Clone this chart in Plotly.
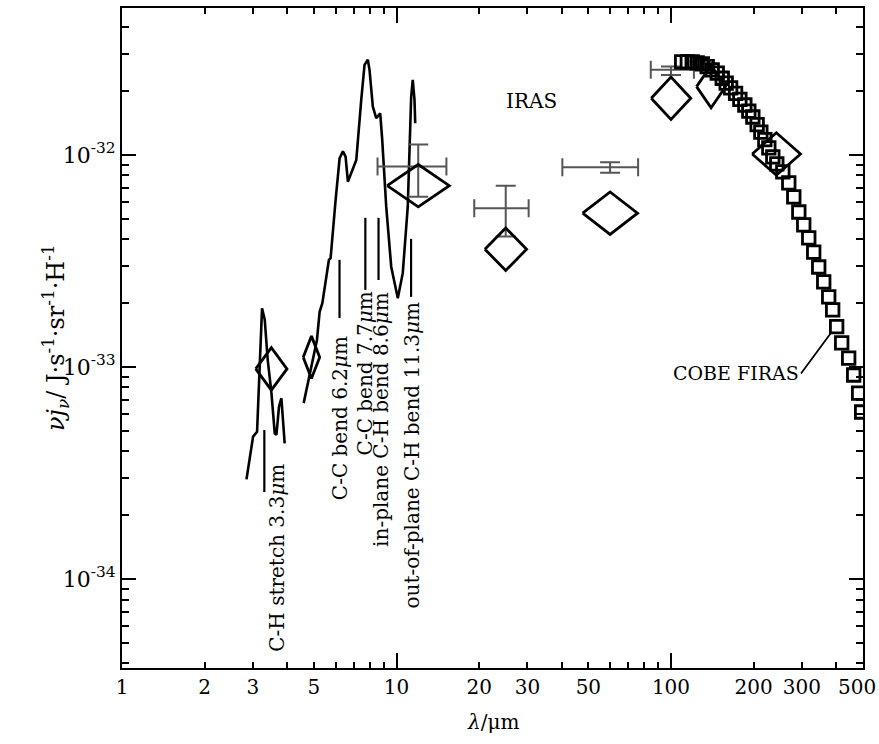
import plotly.graph_objects as go
import numpy as np

# ---------------- data ----------------
# PAH emission spectrum, segment 1 (3.3 um feature)
pah1_lam = [2.841, 3.003, 3.105, 3.237, 3.311, 3.395, 3.503, 3.601, 3.652, 3.733, 3.808, 3.914]
pah1_val = [2.95e-34, 4.69e-34, 4.95e-34, 1.89e-33, 1.67e-33, 1.08e-33, 7.52e-34,
            4.86e-34, 4.78e-34, 6.50e-34, 7.12e-34, 4.36e-34]
# PAH emission spectrum, segment 2 (5-12 um)
pah2_lam = [4.59, 4.938, 5.131, 5.248, 5.368, 5.673, 5.754, 6.001, 6.205, 6.379, 6.524,
            6.651, 6.844, 7.137, 7.44, 7.648, 7.862, 7.975, 8.199, 8.436, 8.723, 8.871,
            9.174, 9.566, 10.11, 10.54, 10.99, 11.31, 11.46, 11.63, 11.70]
pah2_val = [6.75e-34, 1.08e-33, 1.34e-33, 1.82e-33, 2.00e-33, 3.20e-33, 3.26e-33,
            6.14e-33, 9.64e-33, 1.04e-32, 9.82e-33, 7.48e-33, 8.20e-33, 9.47e-33,
            1.82e-32, 2.66e-32, 2.81e-32, 2.52e-32, 1.69e-32, 1.49e-32, 1.57e-32,
            1.18e-32, 5.70e-33, 2.97e-33, 2.11e-33, 2.77e-33, 5.70e-33, 1.88e-32,
            2.26e-32, 1.82e-32, 1.41e-32]

# DIRBE band points (diamonds); half band width in dex
dirbe_lam = [3.5, 4.9, 12, 25, 60, 100, 140, 242]
dirbe_val = [9.79e-34, 1.11e-33, 7.16e-33, 3.59e-33, 5.31e-33, 1.85e-32, 2.10e-32, 1.01e-32]
dirbe_halfwidth_dex = [0.057, 0.030, 0.113, 0.076, 0.100, 0.072, 0.053, 0.088]

# IRAS points with error bars
iras_lam = [12, 25, 60, 100]
iras_val = [8.81e-33, 5.61e-33, 8.75e-33, 2.52e-32]
iras_lam_lo = [8.53, 19.2, 40.2, 84.4]
iras_lam_hi = [15.2, 30.3, 75.9, 121.2]
iras_val_lo = [6.35e-33, 4.12e-33, 8.25e-33, 2.38e-32]
iras_val_hi = [1.12e-32, 7.16e-33, 9.24e-33, 2.61e-32]

# COBE FIRAS spectrum (squares)
firas_lam = [109.4, 114.7, 119.5, 124.6, 130.0, 135.5, 141.3, 147.4, 153.7, 158.9, 164.9,
             171.9, 178.2, 185.8, 192.1, 198.7, 206.0, 212.5, 219.7, 227.2, 234.9, 242.9,
             255.5, 268.6, 280.1, 292.2, 304.5, 317.6, 331.1, 345.3, 360.1, 375.5, 388.2,
             401.4, 418.7, 444.0, 463.0, 482.7, 495.0]
firas_val = [2.75e-32, 2.75e-32, 2.75e-32, 2.72e-32, 2.69e-32, 2.61e-32, 2.52e-32, 2.43e-32,
             2.30e-32, 2.18e-32, 2.07e-32, 1.95e-32, 1.83e-32, 1.72e-32, 1.61e-32, 1.51e-32,
             1.39e-32, 1.28e-32, 1.18e-32, 1.08e-32, 9.79e-33, 9.07e-33, 8.32e-33, 7.38e-33,
             6.34e-33, 5.38e-33, 4.68e-33, 4.06e-33, 3.48e-33, 2.96e-33, 2.52e-33, 2.14e-33,
             1.86e-33, 1.55e-33, 1.30e-33, 1.10e-33, 9.16e-34, 7.53e-34, 6.13e-34]

# PAH feature markers
feat_lam = [3.3, 6.2, 7.7, 8.6, 11.3]
feat_top = [5.04e-34, 3.20e-33, 5.05e-33, 5.05e-33, 4.02e-33]
feat_bot = [2.57e-34, 1.70e-33, 2.31e-33, 2.57e-33, 2.14e-33]
feat_text = ["C-H stretch 3.3<i>μ</i>m", "C-C bend 6.2<i>μ</i>m", "C-C bend 7.7<i>μ</i>m",
             "in-plane C-H bend 8.6<i>μ</i>m", "out-of-plane C-H bend 11.3<i>μ</i>m"]
feat_text_lam = [3.66, 6.20, 7.65, 8.82, 11.34]
feat_text_top = [3.56e-34, 1.42e-33, 2.31e-33, 2.31e-33, 2.07e-33]

# axes (the last label, 500, sits at the frame edge and is right-aligned to stay inside)
x_tick_vals = [1, 2, 3, 5, 10, 20, 30, 50, 100, 200, 300, 500]
x_tick_text = ["1", "2", "3", "5", "10", "20", "30", "50", "100", "200", "300", ""]
x_edge_label = "500"
x_minor_vals = [4, 6, 7, 8, 9, 40, 60, 70, 80, 90, 400]
x_long_vals = [10, 100]
y_decades = [-34, -33, -32]

# ---------------- styles ----------------
FONT = "DejaVu Serif"
BLACK = "black"
DIAMOND_HALF_HEIGHT_DEX = 0.1
X_RANGE = [0, 2.6995]

fig = go.Figure()

fig.add_trace(go.Scatter(x=pah1_lam, y=pah1_val, mode="lines",
                         line=dict(color=BLACK, width=2.6), showlegend=False))
fig.add_trace(go.Scatter(x=pah2_lam, y=pah2_val, mode="lines",
                         line=dict(color=BLACK, width=2.6), showlegend=False))

# feature marker lines
fx, fy = [], []
for lam, t, b in zip(feat_lam, feat_top, feat_bot):
    fx += [lam, lam, None]
    fy += [t, b, None]
fig.add_trace(go.Scatter(x=fx, y=fy, mode="lines", line=dict(color=BLACK, width=2.2),
                         showlegend=False))

# IRAS error bars
fig.add_trace(go.Scatter(
    x=iras_lam, y=iras_val, mode="markers",
    marker=dict(size=2, color="rgba(0,0,0,0)"),
    error_x=dict(type="data", symmetric=False,
                 array=[h - c for h, c in zip(iras_lam_hi, iras_lam)],
                 arrayminus=[c - l for l, c in zip(iras_lam_lo, iras_lam)],
                 color="#555555", thickness=2, width=9),
    error_y=dict(type="data", symmetric=False,
                 array=[h - c for h, c in zip(iras_val_hi, iras_val)],
                 arrayminus=[c - l for l, c in zip(iras_val_lo, iras_val)],
                 color="#555555", thickness=2, width=10),
    showlegend=False))

# DIRBE diamonds (width = band width)
dx, dy = [], []
g = 10 ** DIAMOND_HALF_HEIGHT_DEX
for lam, val, w in zip(dirbe_lam, dirbe_val, dirbe_halfwidth_dex):
    f = 10 ** w
    dx += [lam / f, lam, lam * f, lam, lam / f, None]
    dy += [val, val * g, val, val / g, val, None]
fig.add_trace(go.Scatter(x=dx, y=dy, mode="lines", line=dict(color=BLACK, width=2.8),
                         showlegend=False))

# FIRAS squares
fig.add_trace(go.Scatter(x=firas_lam, y=firas_val, mode="markers",
                         marker=dict(symbol="square-open", size=12.5,
                                     line=dict(color=BLACK, width=2.8), color=BLACK),
                         showlegend=False, cliponaxis=True))

annotations = []
for txt, lam, top in zip(feat_text, feat_text_lam, feat_text_top):
    annotations.append(dict(x=np.log10(lam), y=np.log10(top), xref="x", yref="y",
                            text=txt, textangle=-90, showarrow=False,
                            xanchor="center", yanchor="top",
                            font=dict(family=FONT, size=20, color=BLACK)))
annotations.append(dict(x=np.log10(31), y=-31.745, xref="x", yref="y", text="IRAS",
                        showarrow=False, font=dict(family=FONT, size=20, color=BLACK)))
annotations.append(dict(x=np.log10(386), y=np.log10(1.47e-33), xref="x", yref="y",
                        text="COBE FIRAS", showarrow=True, arrowhead=0, arrowwidth=1.8,
                        arrowcolor=BLACK, ax=-31, ay=42, xanchor="right", yanchor="middle",
                        standoff=0, font=dict(family=FONT, size=19, color=BLACK)))
annotations.append(dict(x=-0.0904, y=0.5, xref="paper", yref="paper",
                        text="<i>νj</i><sub><i>ν</i></sub>/ J·s<sup>-1</sup>·sr<sup>-1</sup>·H<sup>-1</sup>",
                        textangle=-90, showarrow=False, xanchor="center", yanchor="middle",
                        font=dict(family=FONT, size=24, color=BLACK)))
annotations.append(dict(x=0.5, y=-0.082, xref="paper", yref="paper",
                        text="<i>λ</i>/μm", showarrow=False, xanchor="center",
                        yanchor="middle", font=dict(family=FONT, size=20, color=BLACK)))
annotations.append(dict(x=1.0205, y=-0.0285, xref="paper", yref="paper",
                        text=x_edge_label, showarrow=False, xanchor="right",
                        yanchor="middle", font=dict(family=FONT, size=20, color=BLACK)))

y_minor = [k * 10.0 ** e for e in range(-35, -31) for k in range(2, 10)]

fig.update_layout(
    width=879, height=744,
    margin=dict(l=122, r=16, t=8, b=76, autoexpand=False),
    paper_bgcolor="white", plot_bgcolor="white",
    font=dict(family=FONT, size=20, color=BLACK),
    showlegend=False,
    annotations=annotations,
    xaxis=dict(type="log", range=X_RANGE, tickmode="array",
               tickvals=x_tick_vals, ticktext=x_tick_text,
               ticks="inside", ticklen=6, tickwidth=1.6, tickcolor=BLACK,
               tickfont=dict(family=FONT, size=20, color=BLACK),
               automargin=False,
               showline=True, linewidth=2, linecolor=BLACK, mirror="ticks",
               showgrid=False, zeroline=False,
               minor=dict(tickmode="array", tickvals=x_minor_vals, ticks="inside",
                          ticklen=6, tickwidth=1.6, tickcolor=BLACK, showgrid=False)),
    xaxis2=dict(type="log", range=X_RANGE, overlaying="x", anchor="y",
                tickmode="array", tickvals=x_long_vals, ticks="inside", ticklen=15,
                tickwidth=1.8, tickcolor=BLACK, showticklabels=False, showline=False,
                mirror="ticks", showgrid=False, zeroline=False, automargin=False),
    yaxis=dict(type="log", range=[-34.420, -31.307], tickmode="array",
               tickvals=[10.0 ** e for e in y_decades],
               ticktext=["10<sup>-%d</sup>" % (-e) for e in y_decades],
               ticks="inside", ticklen=14, tickwidth=1.6, tickcolor=BLACK,
               tickfont=dict(family=FONT, size=22, color=BLACK), automargin=False,
               showline=True, linewidth=2, linecolor=BLACK, mirror="ticks",
               showgrid=False, zeroline=False,
               minor=dict(tickmode="array", tickvals=y_minor, ticks="inside",
                          ticklen=7, tickwidth=1.6, tickcolor=BLACK, showgrid=False)),
)
# invisible trace so xaxis2 is drawn
fig.add_trace(go.Scatter(x=[1], y=[1e-40], xaxis="x2", mode="markers",
                         marker=dict(size=1, color="rgba(0,0,0,0)"), showlegend=False,
                         hoverinfo="skip"))

fig.write_html("out.html")
